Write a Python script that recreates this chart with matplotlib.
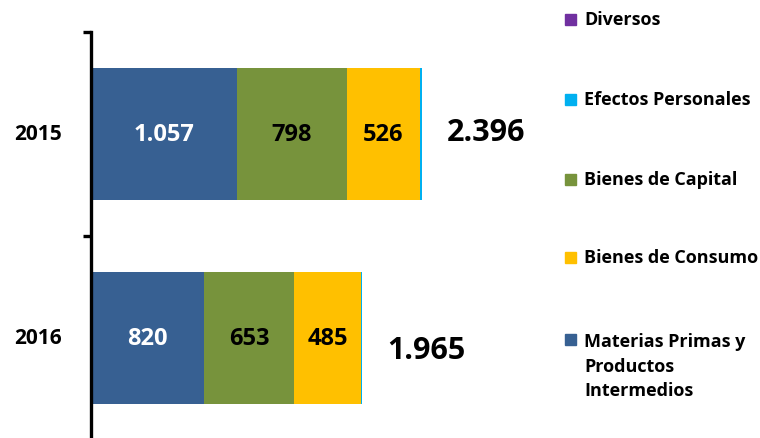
import matplotlib
matplotlib.use("Agg")
import matplotlib.pyplot as plt
from matplotlib.patches import Rectangle
import matplotlib.transforms as mtrans

plt.rcParams['font.family'] = ['Open Sans', 'DejaVu Sans']

years = ["2015", "2016"]
series_names = ["Materias Primas y\nProductos\nIntermedios", "Bienes de Consumo",
                "Bienes de Capital", "Efectos Personales", "Diversos"]
materias = [1057, 820]
consumo = [526, 485]
capital = [798, 653]
efectos = [13, 6]
diversos = [2, 1]
totals = [2396, 1965]
total_labels = ["2.396", "1.965"]
seg_labels = {"materias": ["1.057", "820"], "capital": ["798", "653"], "consumo": ["526", "485"]}

colors = {"materias": "#376092", "capital": "#77933C", "consumo": "#FFC000",
          "efectos": "#00B0F0", "diversos": "#7030A0"}

fig = plt.figure(figsize=(7.6, 4.39), dpi=100)
px_per_unit = 0.1381
ax_left_px, ax_right_px = 91, 560
ax = fig.add_axes([ax_left_px / 760, (439 - 441) / 439, (ax_right_px - ax_left_px) / 760, (441 - 33) / 439])
ax.set_xlim(0, (ax_right_px - ax_left_px) / px_per_unit)
ax.set_ylim(1.5, -0.5)

ypos = [0, 1]
h = 0.65
stack = [("materias", materias), ("capital", capital), ("consumo", consumo),
         ("efectos", efectos), ("diversos", diversos)]
left = [0, 0]
for key, vals in stack:
    ax.barh(ypos, vals, left=left, height=h, color=colors[key], edgecolor='none')
    if key in seg_labels:
        for i, v in enumerate(vals):
            ax.text(left[i] + v / 2, ypos[i], seg_labels[key][i], ha='center', va='center',
                    fontsize=17, fontweight='bold',
                    color='white' if key == "materias" else 'black')
    left = [l + v for l, v in zip(left, vals)]

# totals
ax.text(totals[0] + 180, ypos[0] - 0.01, total_labels[0], ha='left', va='center',
        fontsize=22, fontweight='bold', color='black')
ax.text(totals[1] + 180, ypos[1] + 0.06, total_labels[1], ha='left', va='center',
        fontsize=22, fontweight='bold', color='black')

# axis styling
for s in ['top', 'right', 'bottom']:
    ax.spines[s].set_visible(False)
ax.spines['left'].set_linewidth(2.4)
ax.spines['left'].set_color('black')
ax.set_xticks([])
ax.set_yticks([-0.5, 0.5, 1.5])
ax.set_yticklabels([])
ax.tick_params(axis='y', length=6, width=2.4, direction='out', color='black')
tr = mtrans.blended_transform_factory(fig.transFigure, ax.transData)
for i, y in enumerate(years):
    fig.text(38 / 760, ypos[i], y, ha='center', va='center', fontsize=15, fontweight='bold',
             transform=tr)

# legend (manual, in figure pixels)
leg_items = [("diversos", "Diversos", 20), ("efectos", "Efectos Personales", 100),
             ("capital", "Bienes de Capital", 180), ("consumo", "Bienes de Consumo", 258),
             ("materias", series_names[0], 340)]
for key, label, ypx in leg_items:
    fig.patches.append(Rectangle((565 / 760, (439 - ypx - 5.5) / 439), 11 / 760, 11 / 439,
                                 transform=fig.transFigure, color=colors[key]))
    if '\n' in label:
        fig.text(584 / 760, (439 - ypx + 7) / 439, label, ha='left', va='top',
                 fontsize=13, fontweight='bold', linespacing=1.48)
    else:
        fig.text(584 / 760, (439 - ypx) / 439, label, ha='left', va='center',
                 fontsize=13, fontweight='bold')

fig.savefig("out.png", dpi=100)
